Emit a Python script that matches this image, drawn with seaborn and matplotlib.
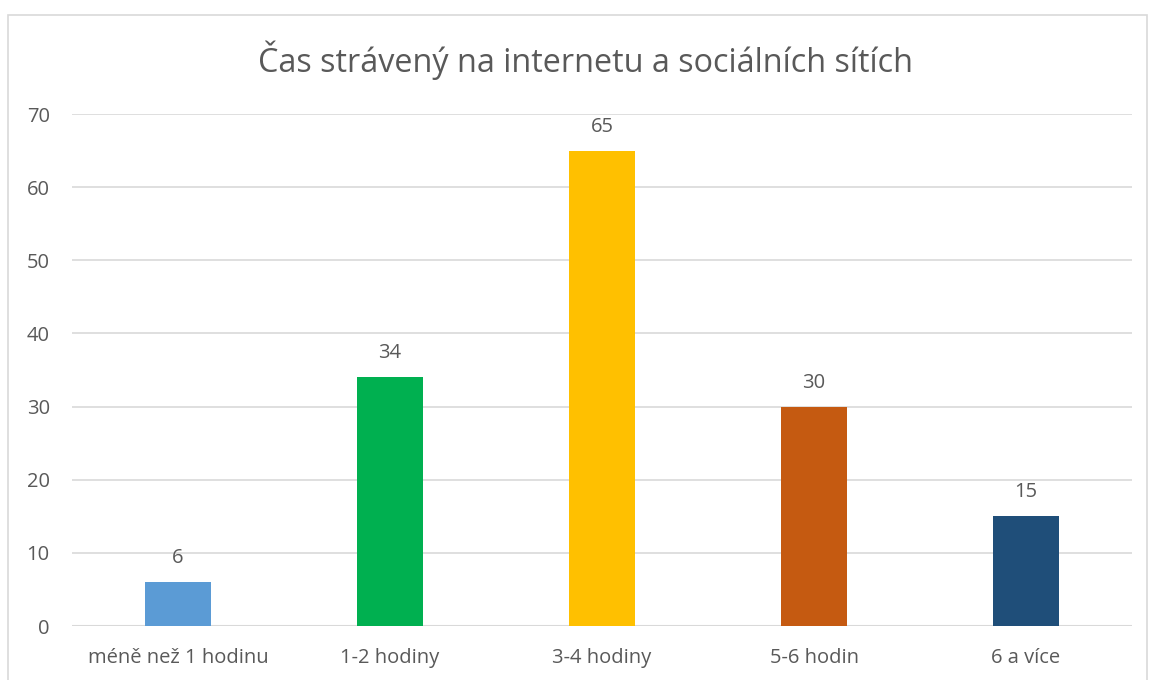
import matplotlib
matplotlib.use("Agg")
import matplotlib.pyplot as plt
import seaborn as sns
import pandas as pd
from matplotlib.patches import Rectangle

categories = ["méně než 1 hodinu", "1-2 hodiny", "3-4 hodiny", "5-6 hodin", "6 a více"]
values = [6, 34, 65, 30, 15]
colors = ["#5B9BD5", "#00B050", "#FFC000", "#C55A11", "#1F4E79"]
title = "Čas strávený na internetu a sociálních sítích"

sns.set_style("white")
plt.rcParams["font.family"] = ["Open Sans", "DejaVu Sans"]
TEXT = "#595959"

df = pd.DataFrame({"cat": categories, "val": values})

fig = plt.figure(figsize=(11.49, 6.80), dpi=100)
ax = fig.add_axes([72 / 1149, 1 - 626 / 680, 1060 / 1149, 512 / 680])

sns.barplot(data=df, x="cat", y="val", hue="cat", palette=colors,
            width=0.316, legend=False, ax=ax, saturation=1, linewidth=0)

for i, v in enumerate(values):
    ax.annotate(str(v), (i, v), xytext=(0, 10), textcoords="offset points",
                ha="center", va="bottom", fontsize=14.5, color=TEXT)

ax.set_ylim(0, 70)
ax.set_xlim(-0.5, len(categories) - 0.5)
ax.set_yticks(range(0, 71, 10))
ax.yaxis.grid(True, color="#D9D9D9", linewidth=1.2)
ax.set_axisbelow(True)
for s in ax.spines.values():
    s.set_visible(False)
ax.axhline(0, color="#D9D9D9", linewidth=1.5, zorder=0)
ax.tick_params(axis="both", length=0, labelsize=14.5, colors=TEXT)
ax.tick_params(axis="y", pad=16)
ax.tick_params(axis="x", pad=16)
ax.set_xlabel("")
ax.set_ylabel("")

fig.text(585 / 1149, 1 - 60 / 680, title, ha="center", va="center",
         fontsize=23.3, color=TEXT)

fig.patches.append(Rectangle((8 / 1149, -0.05), 1139 / 1149, 1.05 - 15 / 680,
                             transform=fig.transFigure, fill=False,
                             edgecolor="#D9D9D9", linewidth=1.2))

fig.savefig("out.png", dpi=100)
